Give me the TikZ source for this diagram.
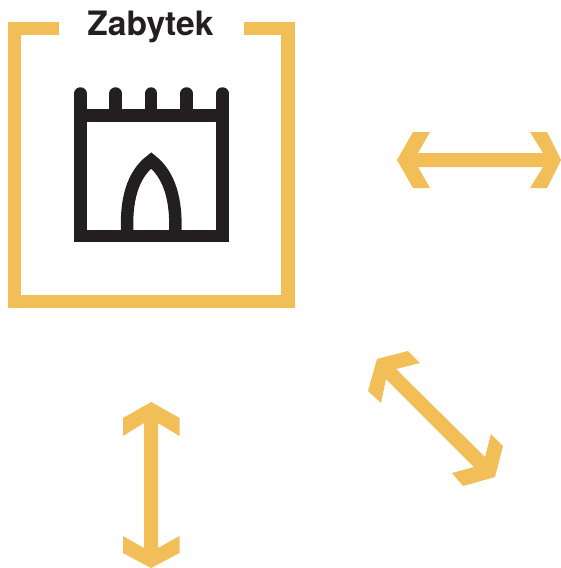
\documentclass[tikz,border=0pt]{standalone}
\usepackage{fontspec}
\setmainfont{TeX Gyre Heros}
\definecolor{zabytekgold}{HTML}{F2BE57}
\definecolor{zabytekink}{HTML}{231F20}
\tikzset{
  framepart/.style={draw=zabytekgold, line width=13.5pt},
  towerpart/.style={draw=zabytekink, line width=12.5pt},
  merlon/.style={towerpart, line cap=round},
  arrowshape/.style={fill=zabytekgold}
}
\begin{document}
\begin{tikzpicture}[x=1pt, y=-1pt]
    \useasboundingbox (0,0) rectangle (561,568);

    % frame
    \draw[framepart] (59,28.3) -- (14.7,28.3) -- (14.7,301.5) -- (288.2,301.5) -- (288.2,28.3) -- (243.5,28.3);
    \node[font=\fontsize{33.6}{36}\selectfont\bfseries, text=zabytekink, inner sep=0pt, anchor=base] (title) at (150.5,35.8) {Zabytek};

    % tower
    \draw[merlon] (80.3,93.5) -- (80.3,115.5);
    \draw[merlon] (115.7,93.5) -- (115.7,115.5);
    \draw[merlon] (151.2,93.5) -- (151.2,115.5);
    \draw[merlon] (186.7,93.5) -- (186.7,115.5);
    \draw[merlon] (222.5,93.5) -- (222.5,115.5);
    \draw[towerpart] (80.3,115.5) rectangle (222.5,235.8);

    % arch
    \draw[towerpart] (127.5,235.8) .. controls (125,200) and (133,174) .. (151.2,160.5)
                     .. controls (169,174) and (177.5,200) .. (174.9,235.8);

    % right arrow
    \path[arrowshape] (397,160) -- (413,132) -- (430,132) -- (418,153) -- (543,153) -- (530,132) -- (547,132)
                      -- (561,160) -- (547,188) -- (530,188) -- (543,167) -- (418,167) -- (430,188) -- (413,188) -- cycle;

    % diagonal arrow
    \path[arrowshape] (377,359) -- (408,351) -- (420,363) -- (396,369) -- (485,457) -- (491,434) -- (503,446)
                      -- (495,477) -- (463,486) -- (452,473) -- (474,467) -- (386,379) -- (381,403) -- (368,391) -- cycle;

    % lower arrow
    \path[arrowshape] (151.2,402) -- (179.5,418) -- (179.5,436) -- (158,423) -- (158,548) -- (179.5,536) -- (179.5,553)
                      -- (151.2,568) -- (123,553) -- (123,536) -- (144,548) -- (144,423) -- (123,436) -- (123,418) -- cycle;
\end{tikzpicture}
\end{document}
